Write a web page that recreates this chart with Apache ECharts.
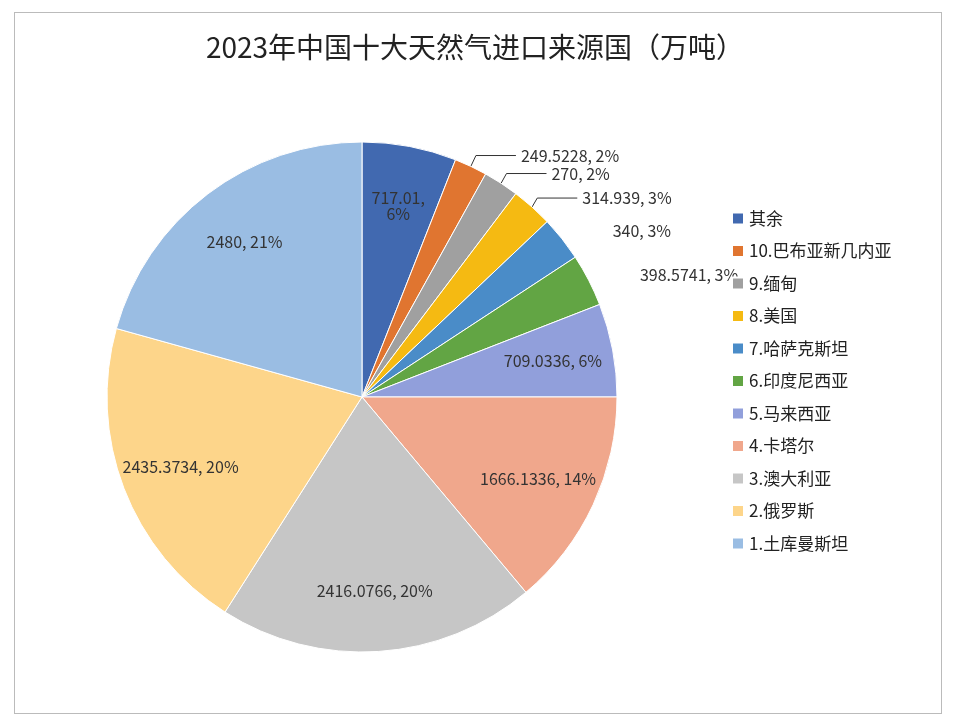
<!DOCTYPE html><html><head><meta charset="utf-8">
<script src="https://cdn.jsdelivr.net/npm/echarts@6/dist/echarts.min.js"></script>
<style>html,body{margin:0;background:#fff}#c{width:954px;height:724px}
#f{position:absolute;left:14px;top:12px;width:926px;height:700px;border:1px solid #bbb;pointer-events:none}</style></head>
<body><div id="c"></div><div id="f"></div><script>
const names=['其余','10.巴布亚新几内亚','9.缅甸','8.美国','7.哈萨克斯坦','6.印度尼西亚','5.马来西亚','4.卡塔尔','3.澳大利亚','2.俄罗斯','1.土库曼斯坦'];
const values=[717.01,249.5228,270,314.939,340,398.5741,709.0336,1666.1336,2416.0766,2435.3734,2480];
const colors=['#4169B0','#E07530','#A0A0A0','#F5BA12','#4A8CC8','#62A544','#919FDB','#F0A78C','#C6C6C6','#FDD58A','#9ABDE3'];
const outside=[1,2,3,4,5];
const fmt=p=>p.value+', '+Math.round(p.percent)+'%';
const chart=echarts.init(document.getElementById('c'));
const center=[362,397],R=255;
chart.setOption({
 animation:false,
 title:{text:'2023年中国十大天然气进口来源国（万吨）',left:470,top:28,textAlign:'center',textStyle:{fontSize:28,fontWeight:'normal',color:'#222',fontFamily:'Noto Sans CJK SC'}},
 legend:{orient:'vertical',left:726,top:205,itemGap:15.5,itemWidth:12,itemHeight:12,icon:'rect',
  textStyle:{fontSize:17,color:'#222',fontFamily:'Noto Sans CJK SC'},data:names},
 series:[{type:'pie',radius:[0,R],center,startAngle:90,clockwise:true,
  itemStyle:{borderColor:'#fff',borderWidth:1},
  label:{show:false},labelLine:{show:false},
  data:names.map((n,i)=>({name:n,value:values[i],itemStyle:{color:colors[i]},
   label:outside.includes(i)?{show:true,position:'outside',formatter:fmt,fontSize:16,color:'#333',fontFamily:'Noto Sans CJK SC'}:{show:false},
   labelLine:outside.includes(i)?{show:i<=3,length:12,length2:40,lineStyle:{color:'#333'}}:{show:false}}))},
 {type:'pie',radius:[R*0.5,R],center,startAngle:90,silent:true,
  itemStyle:{color:'transparent'},
  label:{show:true,position:'inside',fontSize:16,color:'#333',fontFamily:'Noto Sans CJK SC',
   formatter:p=>p.dataIndex===0?p.value+',\n'+Math.round(p.percent)+'%':fmt(p)},
  data:names.map((n,i)=>({name:n,value:values[i],label:{show:!outside.includes(i)}}))}]
});
</script></body></html>
